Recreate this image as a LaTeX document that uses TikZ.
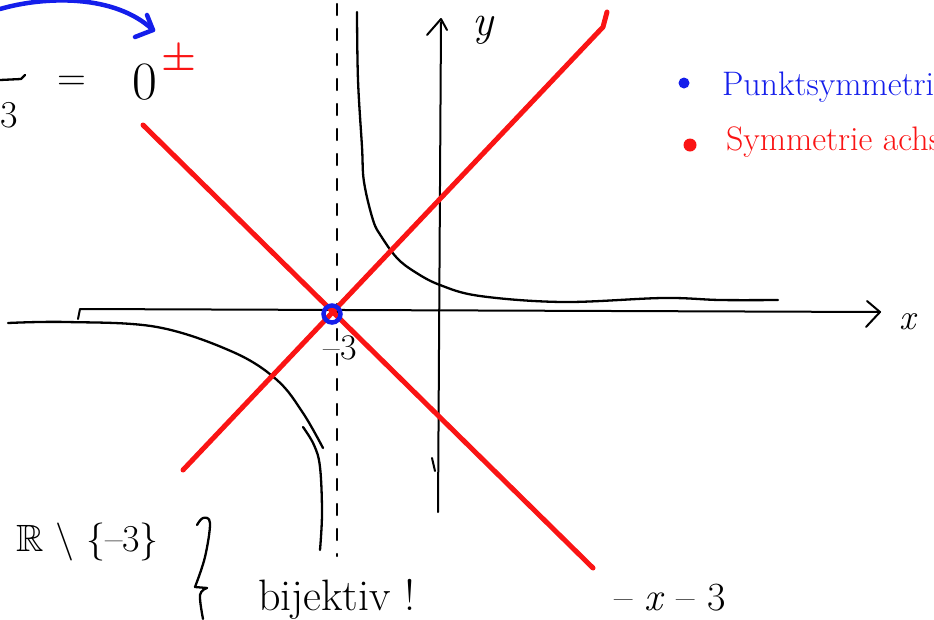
\documentclass[tikz,border=0pt]{standalone}
\usepackage{amssymb}
\newcommand{\myfs}[1]{\fontsize{#1}{#1}\selectfont}
\definecolor{penred}{RGB}{250,20,20}
\definecolor{penblue}{RGB}{20,30,235}
\tikzset{
  pen/.style={line width=2.3pt, line cap=round, line join=round, black},
  thinpen/.style={line width=2pt, line cap=round, line join=round, black},
  redpen/.style={line width=5pt, line cap=round, line join=round, penred},
  bluepen/.style={line width=4.5pt, line cap=round, line join=round, penblue},
  lbl/.style={inner sep=0pt, outer sep=0pt},
}
\begin{document}
\begin{tikzpicture}[x=1pt,y=-1pt]
\useasboundingbox (0,0) rectangle (934,619);
\clip (0,0) rectangle (934,619);

% dashed asymptote x=-3
\coordinate (asT) at (337,4);
\coordinate (asB) at (337,556);
\draw[pen, dash pattern=on 11pt off 14pt] (asT) -- (asB);

% x-axis
\coordinate (xHook) at (78,319);
\coordinate (xL) at (80,309);
\coordinate (xR) at (880,312);
\coordinate (xW1) at (867,301);
\coordinate (xW2) at (866,327);
\draw[thinpen] (xHook) -- (xL) -- (xR);
\draw[thinpen] (xW1) -- (xR) -- (xW2);
\node[lbl, font=\myfs{36}\itshape] (xlab) at (908,322) {x};

% y-axis
\coordinate (yB) at (438,512);
\coordinate (yT) at (441,22);
\coordinate (yW1) at (427,35);
\coordinate (yW2) at (447,30);
\draw[thinpen] (yB) -- (yT);
\draw[thinpen] (yW1) -- (441,19) -- (yW2);
\draw[thinpen] (432,458) -- (435,471);
\node[lbl, font=\myfs{44}\itshape] (ylab) at (483,30) {y};

% right branch of hyperbola
\draw[pen] plot[smooth, tension=0.6] coordinates {(357,12) (358,80) (362,147) (364,182) (373,220) (381,236) (397,258) (415,272) (440,285) (480,296) (563,302) (663,298) (720,300) (778,300)};

% left branch of hyperbola (two strokes)
\draw[pen] plot[smooth, tension=0.6] coordinates {(8,323) (67,322) (157,327) (233,352) (277,380) (303,413) (323,448)};
\draw[pen] plot[smooth, tension=0.6] coordinates {(303,427) (314,445) (320,467) (322,513) (320,550)};

% red symmetry axes
\coordinate (rA1) at (143,125);
\coordinate (rA2) at (593,568);
\draw[redpen] (rA1) -- (rA2);
\coordinate (rB1) at (183,470);
\coordinate (rB2) at (603,27);
\coordinate (rB3) at (607,12);
\draw[redpen] (rB1) -- (rB2) -- (rB3);

% blue centre of symmetry
\node[circle, draw=penblue, line width=4.5pt, minimum size=17pt, inner sep=0pt] (centre) at (332,314) {};
\fill[penred] (333,313) circle (2.2pt);
\node[lbl, font=\myfs{36}] (m3) at (340,348) {–3};

% top-left: blue arrow, = 0^{\pm}
\coordinate (arS) at (0,9);
\coordinate (arE) at (153,30);
\draw[bluepen] (arS) .. controls (45,-4) and (115,-6) .. (arE);
\draw[bluepen] (147,15) -- (arE) -- (135,37);
\draw[pen] (0,80) -- (21,79) -- (25,75);
\node[lbl, font=\myfs{38}] (three) at (9,115) {3};
\node[lbl, font=\myfs{40}] (eq) at (72,83) {=};
\node[lbl, font=\myfs{54}] (zero) at (145,82) {0};
\node[lbl, font=\myfs{40}\bfseries, text=penred] (pm) at (179,57) {±};

% legend
\fill[penblue] (684,83) circle (5.5pt);
\node[lbl, anchor=base west, font=\myfs{34}, text=penblue] (leg1) at (722,95) {Punktsymmetrie};
\fill[penred] (690,145) circle (6.5pt);
\node[lbl, anchor=base west, font=\myfs{34}, text=penred] (leg2) at (726,150) {Symmetrie achse};

% bottom texts
\node[lbl, anchor=base east, font=\myfs{38}] (dom) at (159,551) {$\mathbb{R}$ \textbackslash\ \{–3\}};
\draw[pen] plot[smooth, tension=0.6] coordinates {(197,525) (203,518) (210,523) (205,557) (195,587)};
\draw[pen] (195,587) -- (207,588);
\draw[pen] plot[smooth, tension=0.6] coordinates {(207,588) (200,595) (203,619)};
\node[lbl, anchor=base west, font=\myfs{44}] (bij) at (258,610) {bijektiv !};
\node[lbl, anchor=base west, font=\myfs{40}] (fx) at (614,610) {– \textit{x} – 3};
\end{tikzpicture}
\end{document}
